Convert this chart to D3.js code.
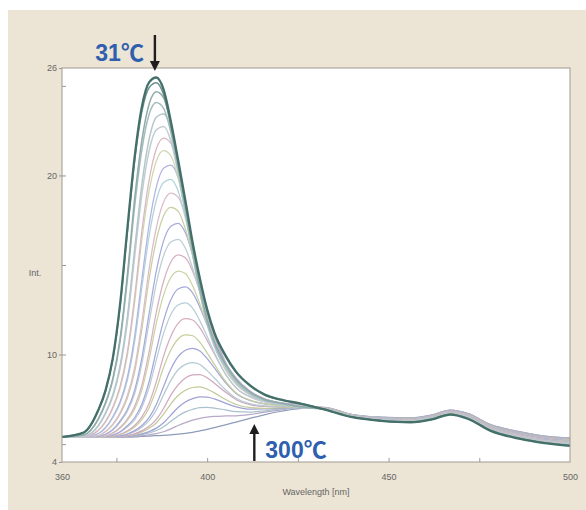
<!DOCTYPE html>
<html><head><meta charset="utf-8">
<script src="https://cdn.jsdelivr.net/npm/d3@7/dist/d3.min.js"></script>
<style>html,body{margin:0;padding:0;background:#fff;}svg{display:block;}</style>
</head><body>
<svg id="chart" width="586" height="510"></svg>
<script>
// ---- data ----
const wavelengths = [360,366,370,372,374,376,378,380,382,384,386,388,390,392,394,396,398,400,402,405,408,412,416,420,426,432,440,448,456,462,467,472,478,486,493,500];
const temperatures = [31,40,50,60,70,80,90,100,110,120,130,140,150,160,170,180,190,200,210,220,230,240,250,260,270,280,290,300];
const int031 = [5.4,5.65,6.9,8.0,9.8,12.8,17.0,21.0,23.83,25.2,25.47,24.79,23.02,20.86,18.6,16.26,14.24,12.52,11.22,9.97,9.03,8.25,7.75,7.5,7.25,6.95,6.5,6.3,6.22,6.38,6.65,6.4,5.75,5.3,5.05,4.9];
const int040 = [5.4,5.65,6.88,7.96,9.73,12.69,16.83,20.77,23.55,24.9,25.17,24.5,22.76,20.63,18.4,16.1,14.11,12.42,11.14,9.91,8.99,8.22,7.73,7.49,7.25,6.95,6.51,6.31,6.23,6.39,6.66,6.41,5.76,5.31,5.06,4.92];
const int050 = [5.4,5.52,6.41,7.32,8.66,10.87,14.42,18.65,21.94,23.98,24.67,24.33,22.94,20.78,18.37,15.93,13.76,11.96,10.72,9.5,8.6,7.89,7.48,7.31,7.08,6.96,6.51,6.31,6.24,6.4,6.67,6.42,5.78,5.33,5.08,4.93];
const int060 = [5.4,5.51,6.38,7.26,8.56,10.7,14.14,18.23,21.43,23.4,24.07,23.74,22.4,20.3,17.97,15.61,13.51,11.77,10.57,9.39,8.53,7.85,7.45,7.29,7.07,6.96,6.52,6.32,6.25,6.41,6.68,6.43,5.79,5.34,5.09,4.95];
const int070 = [5.4,5.45,6.03,6.75,7.74,9.36,12.06,15.84,19.47,22.01,23.25,23.44,22.6,20.69,18.39,15.98,13.78,11.94,10.63,9.36,8.47,7.78,7.4,7.24,7.04,6.96,6.52,6.33,6.26,6.42,6.69,6.44,5.8,5.36,5.11,4.97];
const int080 = [5.4,5.44,6.01,6.7,7.65,9.21,11.8,15.43,18.92,21.37,22.55,22.74,21.94,20.1,17.89,15.58,13.46,11.7,10.44,9.23,8.38,7.73,7.37,7.23,7.03,6.97,6.53,6.34,6.27,6.43,6.7,6.46,5.81,5.37,5.12,4.98];
const int090 = [5.4,5.41,5.77,6.27,7.06,8.22,10.13,13.2,16.88,19.73,21.49,22.09,21.79,20.48,18.49,16.22,14.16,12.29,10.84,9.48,8.58,7.86,7.44,7.28,7.07,6.97,6.53,6.34,6.28,6.44,6.71,6.47,5.83,5.39,5.14,5.0];
const int100 = [5.4,5.41,5.76,6.23,6.99,8.1,9.93,12.87,16.4,19.12,20.81,21.39,21.1,19.85,17.95,15.88,13.8,12.02,10.63,9.34,8.48,7.8,7.41,7.26,7.07,6.98,6.54,6.35,6.28,6.44,6.71,6.48,5.84,5.4,5.15,5.02];
const int110 = [5.4,5.4,5.59,5.93,6.53,7.36,8.72,10.99,14.19,17.23,19.36,20.4,20.57,19.89,18.29,16.2,14.18,12.46,11.05,9.57,8.67,7.91,7.48,7.3,7.11,6.98,6.54,6.36,6.29,6.45,6.72,6.49,5.85,5.42,5.17,5.03];
const int120 = [5.4,5.4,5.58,5.9,6.47,7.26,8.55,10.69,13.72,16.6,18.63,19.61,19.78,19.13,17.62,15.82,13.94,12.2,10.78,9.39,8.54,7.83,7.44,7.27,7.11,6.98,6.55,6.37,6.3,6.46,6.73,6.5,5.87,5.43,5.18,5.05];
const int130 = [5.4,5.4,5.48,5.7,6.11,6.75,7.7,9.25,11.78,14.77,17.08,18.52,19.02,18.79,17.74,16.14,14.18,12.46,11.19,9.6,8.69,7.93,7.51,7.31,7.15,6.99,6.56,6.37,6.31,6.47,6.74,6.51,5.88,5.45,5.2,5.07];
const int140 = [5.4,5.4,5.48,5.69,6.07,6.67,7.56,9.02,11.4,14.21,16.39,17.75,18.22,18.01,17.02,15.52,13.9,12.26,10.87,9.39,8.55,7.84,7.46,7.28,7.14,6.99,6.56,6.38,6.32,6.48,6.75,6.52,5.89,5.46,5.21,5.08];
const int150 = [5.4,5.4,5.43,5.55,5.81,6.29,6.93,8.0,9.8,12.29,14.67,16.35,17.17,17.32,16.8,15.58,14.12,12.47,11.19,9.57,8.65,7.92,7.52,7.31,7.18,6.99,6.57,6.39,6.33,6.49,6.76,6.53,5.91,5.48,5.23,5.1];
const int160 = [5.4,5.4,5.43,5.54,5.78,6.22,6.82,7.8,9.46,11.77,13.97,15.52,16.28,16.43,15.94,14.82,13.48,12.07,10.79,9.3,8.47,7.81,7.46,7.27,7.16,7.0,6.57,6.4,6.34,6.5,6.77,6.54,5.92,5.49,5.24,5.12];
const int170 = [5.4,5.4,5.41,5.46,5.63,5.93,6.4,7.1,8.28,10.15,12.37,14.09,15.17,15.56,15.4,14.65,13.51,12.25,10.99,9.47,8.55,7.87,7.5,7.3,7.2,7.0,6.58,6.4,6.35,6.51,6.78,6.56,5.93,5.51,5.26,5.13];
const int180 = [5.4,5.4,5.4,5.45,5.6,5.88,6.31,6.95,8.02,9.73,11.75,13.32,14.3,14.66,14.52,13.84,12.81,11.67,10.53,9.16,8.34,7.74,7.42,7.25,7.18,7.01,6.58,6.41,6.36,6.52,6.79,6.57,5.94,5.52,5.27,5.15];
const int190 = [5.4,5.4,5.4,5.42,5.5,5.69,6.02,6.47,7.23,8.48,10.23,11.89,13.06,13.66,13.78,13.44,12.63,11.65,10.62,9.27,8.37,7.77,7.44,7.27,7.19,7.01,6.59,6.42,6.37,6.53,6.8,6.58,5.96,5.54,5.29,5.17];
const int200 = [5.4,5.4,5.4,5.42,5.49,5.66,5.95,6.35,7.04,8.15,9.7,11.18,12.24,12.77,12.88,12.59,11.88,11.01,10.11,8.92,8.14,7.63,7.35,7.22,7.17,7.01,6.59,6.43,6.38,6.54,6.81,6.59,5.97,5.55,5.3,5.18];
const int210 = [5.4,5.4,5.4,5.4,5.44,5.54,5.74,6.04,6.52,7.27,8.48,9.91,11.02,11.74,12.0,11.93,11.49,10.79,10.03,8.93,8.13,7.62,7.35,7.23,7.18,7.02,6.6,6.43,6.39,6.55,6.82,6.6,5.98,5.57,5.32,5.2];
const int220 = [5.4,5.4,5.4,5.4,5.43,5.52,5.69,5.95,6.37,7.02,8.06,9.29,10.25,10.87,11.1,11.05,10.68,10.09,9.45,8.53,7.86,7.45,7.25,7.17,7.15,7.02,6.61,6.44,6.4,6.56,6.83,6.61,6.0,5.58,5.33,5.22];
const int230 = [5.4,5.4,5.4,5.4,5.41,5.46,5.56,5.75,6.04,6.48,7.21,8.22,9.19,9.88,10.24,10.35,10.2,9.77,9.26,8.45,7.83,7.42,7.24,7.17,7.15,7.02,6.61,6.45,6.41,6.57,6.84,6.62,6.01,5.6,5.35,5.23];
const int240 = [5.4,5.4,5.4,5.4,5.41,5.45,5.54,5.69,5.94,6.31,6.91,7.75,8.56,9.15,9.45,9.55,9.44,9.1,8.69,8.05,7.56,7.25,7.14,7.11,7.12,7.03,6.62,6.46,6.41,6.57,6.84,6.63,6.02,5.61,5.36,5.25];
const int250 = [5.4,5.4,5.4,5.4,5.4,5.42,5.47,5.57,5.75,5.99,6.38,6.99,7.73,8.31,8.69,8.86,8.88,8.7,8.4,7.91,7.48,7.19,7.1,7.09,7.12,7.03,6.62,6.46,6.42,6.58,6.85,6.64,6.04,5.63,5.38,5.27];
const int260 = [5.4,5.4,5.4,5.4,5.4,5.42,5.46,5.53,5.68,5.88,6.18,6.67,7.25,7.71,8.01,8.16,8.19,8.07,7.86,7.5,7.21,7.03,7.0,7.03,7.09,7.04,6.63,6.47,6.43,6.59,6.86,6.66,6.05,5.64,5.39,5.28];
const int270 = [5.4,5.4,5.4,5.4,5.4,5.4,5.42,5.47,5.57,5.7,5.89,6.19,6.62,7.04,7.35,7.54,7.63,7.62,7.52,7.29,7.08,6.95,6.96,7.0,7.08,7.04,6.63,6.48,6.44,6.6,6.87,6.67,6.06,5.66,5.41,5.3];
const int280 = [5.4,5.4,5.4,5.4,5.4,5.4,5.42,5.45,5.53,5.62,5.76,5.97,6.27,6.57,6.8,6.94,7.04,7.05,7.01,6.91,6.81,6.79,6.86,6.95,7.05,7.04,6.64,6.49,6.45,6.61,6.88,6.68,6.07,5.67,5.42,5.32];
const int290 = [5.4,5.4,5.4,5.4,5.4,5.4,5.4,5.42,5.47,5.52,5.59,5.69,5.85,6.04,6.2,6.34,6.44,6.51,6.55,6.57,6.58,6.66,6.78,6.9,7.03,7.05,6.64,6.49,6.46,6.62,6.89,6.69,6.09,5.69,5.44,5.33];
const int300 = [5.4,5.4,5.4,5.4,5.4,5.4,5.4,5.4,5.43,5.45,5.47,5.49,5.52,5.56,5.6,5.66,5.74,5.82,5.92,6.07,6.23,6.45,6.65,6.82,7.0,7.05,6.65,6.5,6.47,6.63,6.9,6.7,6.1,5.7,5.45,5.35];
const spectra = [int031,int040,int050,int060,int070,int080,int090,int100,int110,int120,int130,int140,int150,int160,int170,int180,int190,int200,int210,int220,int230,int240,int250,int260,int270,int280,int290,int300];
const xTicks = [375,400,425,450,475];
const xLabels = [360,400,450,500];
const yTicks = [5,10,15,20,25];
const yLabels = [4,10,20,26];
const annotLow = "31℃", annotHigh = "300℃";
const peakWavelength = 385.6, arrowHighWavelength = 413;

// ---- styles ----
const palette = ['#44706b','#6b918c','#8fabaa','#a5bcbc','#b5c6c9','#c0ccd2',
  '#d8b6c6','#cfd7ac','#b1b4df','#b1d2dc','#dbbccb','#c9cfa0','#a8abdb','#bccfd4',
  '#d7b0c2','#cbd3a3','#a6a8d9','#b7ced7','#d4adc0','#c6cf9d','#a3a6d6','#b5cad3',
  '#cfa8bd','#c2cb9a','#9fa3d3','#a9c1cc','#b9a8c8','#8e9cb8'];

const svg = d3.select('#chart');
const W = 586, H = 510;
const m = {left:62, right:570, top:68, bottom:462};
const defs = svg.append('defs');
defs.append('filter').attr('id','soft').append('feGaussianBlur').attr('stdDeviation',0.35);
svg.append('rect').attr('x',8).attr('y',10).attr('width',W-8).attr('height',H-10).attr('fill','#ece4d4');
svg.append('rect').attr('x',m.left).attr('y',m.top).attr('width',m.right-m.left).attr('height',m.bottom-m.top).attr('fill','#fff');

const x = d3.scaleLinear().domain([360,500]).range([m.left,m.right]);
const y = d3.scaleLinear().domain([4,26]).range([m.bottom,m.top]);

defs.append('clipPath').attr('id','clip').append('rect')
  .attr('x',m.left).attr('y',m.top-4).attr('width',m.right-m.left).attr('height',m.bottom-m.top+4);

const line = d3.line().x(d=>x(d[0])).y(d=>y(d[1])).curve(d3.curveMonotoneX);
const g = svg.append('g').attr('clip-path','url(#clip)').append('g').attr('filter','url(#soft)');
const order = d3.range(spectra.length).reverse();
g.selectAll('path.s').data(order).join('path')
  .attr('class','s')
  .attr('d', i => line(wavelengths.map((w,j)=>[w, spectra[i][j]])))
  .attr('fill','none')
  .attr('stroke', i => palette[i])
  .attr('stroke-width', i => i===0 ? 2.3 : (i<6 ? 1.5 : 1.25))
  .attr('stroke-linejoin','round');

// axes
const fontFam = 'Liberation Sans, Arial, sans-serif';
const xAxisTicks = d3.axisBottom(x).tickValues(xTicks).tickSize(-4).tickFormat('');
svg.append('g').attr('transform',`translate(0,${m.bottom})`).call(xAxisTicks)
  .call(s=>s.select('.domain').remove()).selectAll('line').attr('stroke','#999');
const xAxisLab = d3.axisBottom(x).tickValues(xLabels).tickSize(0).tickPadding(12).tickFormat(d3.format('d'));
svg.append('g').attr('transform',`translate(0,${m.bottom})`).call(xAxisLab)
  .call(s=>s.select('.domain').remove())
  .selectAll('text').attr('fill','#666').attr('font-size',9).attr('font-family',fontFam);

const yAxisTicks = d3.axisLeft(y).tickValues(yTicks).tickSize(-4).tickFormat('');
svg.append('g').attr('transform',`translate(${m.left},0)`).call(yAxisTicks)
  .call(s=>s.select('.domain').remove()).selectAll('line').attr('stroke','#999');
const yAxisLab = d3.axisLeft(y).tickValues(yLabels).tickSize(3).tickPadding(2).tickFormat(d3.format('d'));
svg.append('g').attr('transform',`translate(${m.left},0)`).call(yAxisLab)
  .call(s=>s.select('.domain').remove())
  .call(s=>s.selectAll('line').attr('stroke','#999'))
  .selectAll('text').attr('fill','#666').attr('font-size',9).attr('font-family',fontFam);

svg.append('rect').attr('x',m.left).attr('y',m.top).attr('width',m.right-m.left).attr('height',m.bottom-m.top)
  .attr('fill','none').attr('stroke','#a09a90').attr('stroke-width',1);

svg.append('text').attr('x',35).attr('y',276).attr('text-anchor','middle')
  .attr('font-size',9).attr('font-family',fontFam).attr('fill','#666').text('Int.');
svg.append('text').attr('x',(m.left+m.right)/2).attr('y',495).attr('text-anchor','middle')
  .attr('font-size',9).attr('font-family',fontFam).attr('fill','#666').text('Wavelength [nm]');

// annotations
const annFont = 'Liberation Sans, Noto Sans CJK JP, sans-serif';
svg.append('text').attr('x',x(peakWavelength)-11).attr('y',61).attr('text-anchor','end')
  .attr('font-size',23).attr('font-weight','bold').attr('font-family',annFont).attr('fill','#2f5fae').text(annotLow);
function arrow(x0,y0,y1){
  const dir = y1>y0 ? 1 : -1;
  svg.append('line').attr('x1',x0).attr('x2',x0).attr('y1',y0).attr('y2',y1-dir*9)
    .attr('stroke','#1e1e1e').attr('stroke-width',2.4);
  svg.append('path').attr('d',`M${x0-5},${y1-dir*10}L${x0+5},${y1-dir*10}L${x0},${y1}Z`).attr('fill','#1e1e1e');
}
arrow(x(peakWavelength), 35, m.top+3);
arrow(x(arrowHighWavelength), m.bottom-1, 424);
svg.append('text').attr('x',x(arrowHighWavelength)+11).attr('y',458)
  .attr('font-size',23).attr('font-weight','bold').attr('font-family',annFont).attr('fill','#2f5fae').text(annotHigh);
</script>
</body></html>
